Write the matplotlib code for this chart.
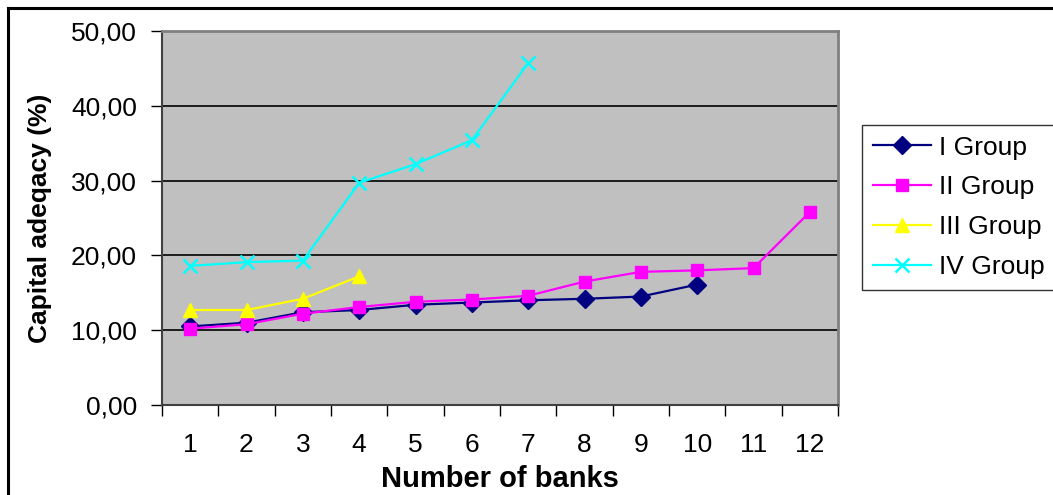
import matplotlib
matplotlib.use("Agg")
import matplotlib.pyplot as plt
from matplotlib.ticker import FixedLocator, FuncFormatter
from matplotlib.lines import Line2D

plt.rcParams['font.family'] = ['Liberation Sans', 'DejaVu Sans']

# Capital adequacy (%) per bank, by group
group_i = [10.5, 11.0, 12.4, 12.7, 13.4, 13.7, 14.0, 14.2, 14.5, 16.1]
group_ii = [10.2, 10.8, 12.2, 13.1, 13.8, 14.1, 14.6, 16.5, 17.8, 18.0, 18.3, 25.8]
group_iii = [12.7, 12.7, 14.2, 17.2]
group_iv = [18.6, 19.1, 19.3, 29.7, 32.2, 35.4, 45.7]

labels = ["I Group", "II Group", "III Group", "IV Group"]
bank_numbers = list(range(1, 13))
y_ticks = [0, 10, 20, 30, 40, 50]

W, H = 1053, 495
fig = plt.figure(figsize=(W / 100, H / 100), dpi=100)
fig.patch.set_facecolor('white')

# outer chart frame (left and top edges)
fig.add_artist(Line2D([8 / W, 8 / W], [0, 1 - 8 / H], color='black', lw=2.2,
                      transform=fig.transFigure))
fig.add_artist(Line2D([8 / W, 1], [1 - 8 / H, 1 - 8 / H], color='black', lw=2.2,
                      transform=fig.transFigure))

left, right, top, bottom = 162, 838, 31, 405
ax = fig.add_axes([left / W, 1 - bottom / H, (right - left) / W, (bottom - top) / H])
ax.set_facecolor('#C0C0C0')

series = [
    (group_i, '#000080', 'D', 9),
    (group_ii, '#FF00FF', 's', 8.5),
    (group_iii, '#FFFF00', '^', 10),
    (group_iv, '#00FFFF', 'x', 10),
]
handles = []
for (vals, color, marker, ms), lab in zip(series, labels):
    xs = bank_numbers[:len(vals)]
    h, = ax.plot(xs, vals, color=color, lw=1.6, marker=marker, markersize=ms,
                 markerfacecolor=color, markeredgecolor=color,
                 markeredgewidth=1.8 if marker == 'x' else 1.0, label=lab,
                 zorder=3, clip_on=False)
    handles.append(h)

ax.set_xlim(0.5, 12.5)
ax.set_ylim(0, 50)

ax.yaxis.set_major_locator(FixedLocator(y_ticks))
ax.yaxis.set_major_formatter(FuncFormatter(lambda v, p: f"{v:.2f}".replace('.', ',')))
for yv in y_ticks[1:-1]:
    ax.axhline(yv, color='black', lw=1.2, zorder=1)

ax.xaxis.set_major_locator(FixedLocator([b - 0.5 for b in bank_numbers] + [12.5]))
ax.xaxis.set_major_formatter(FuncFormatter(lambda v, p: ""))
ax.xaxis.set_minor_locator(FixedLocator(bank_numbers))
ax.xaxis.set_minor_formatter(FuncFormatter(lambda v, p: f"{int(v)}"))
ax.tick_params(axis='x', which='major', direction='out', length=8, width=1, color='black')
ax.tick_params(axis='x', which='minor', length=0, labelsize=19, pad=20)
ax.tick_params(axis='y', which='major', direction='out', length=8, width=1,
               color='black', labelsize=19, pad=10)

for side in ['left', 'bottom']:
    ax.spines[side].set_color('#404040')
    ax.spines[side].set_linewidth(1.5)
for side in ['top', 'right']:
    ax.spines[side].set_color('#808080')
    ax.spines[side].set_linewidth(2)

ax.set_xlabel("Number of banks", fontsize=21, fontweight='bold', labelpad=6)
ax.set_ylabel("Capital adeqacy (%)", fontsize=19, fontweight='bold', labelpad=14)

leg = fig.legend(handles=handles, labels=labels, loc='upper left',
                 bbox_to_anchor=(862 / W, 1 - 125 / H), fontsize=19,
                 frameon=True, fancybox=False, borderpad=0.4, labelspacing=0.6,
                 handlelength=2.2, handletextpad=0.3, borderaxespad=0)
leg.get_frame().set_edgecolor('black')
leg.get_frame().set_linewidth(1.0)

fig.savefig("out.png", dpi=100)
